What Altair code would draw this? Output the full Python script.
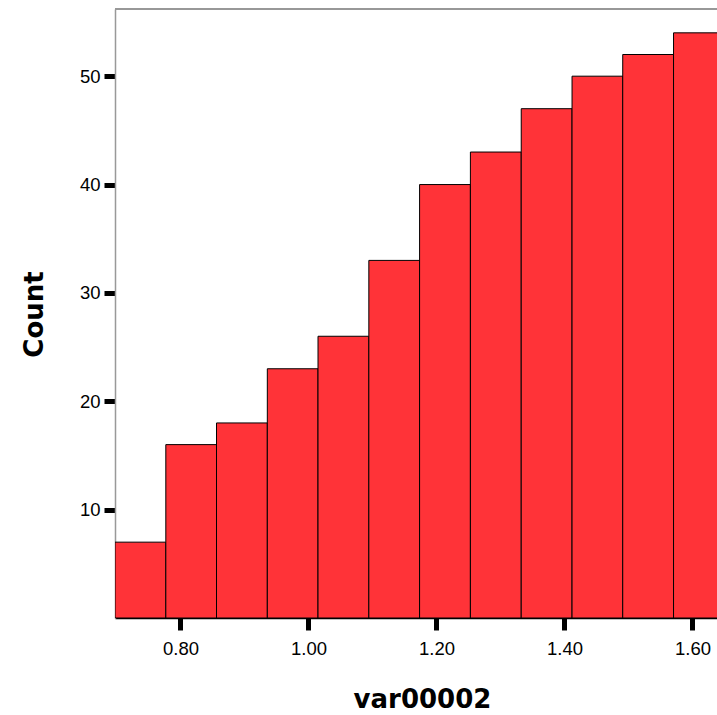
import altair as alt
import pandas as pd

bin_start = [0.6977, 0.7771, 0.8563, 0.9357, 1.0149, 1.0943, 1.1736, 1.2530, 1.3324, 1.4118, 1.4910, 1.5704]
bin_end = [0.7771, 0.8563, 0.9357, 1.0149, 1.0943, 1.1736, 1.2530, 1.3324, 1.4118, 1.4910, 1.5704, 1.6497]
counts = [7, 16, 18, 23, 26, 33, 40, 43, 47, 50, 52, 54]
x_ticks = [0.8, 1.0, 1.2, 1.4, 1.6]
y_ticks = [10, 20, 30, 40, 50]

df = pd.DataFrame({"start": bin_start, "end": bin_end, "count": counts})

W, H = 602, 609
x_dom = [0.6977, 1.6383]
y_dom = [0, 56.2]

bars = alt.Chart(df).mark_rect(
    fill="#ff3338", stroke="#000000", strokeWidth=1, clip=True
).encode(
    x=alt.X("start:Q", scale=alt.Scale(domain=x_dom, nice=False, zero=False),
            axis=alt.Axis(
                values=x_ticks, format=".2f", title="var00002",
                domainColor="#000000", domainWidth=1.5,
                tickColor="#000000", tickWidth=5, tickSize=12,
                labelFont="Liberation Sans", labelFontSize=18.5, labelColor="#000000",
                labelPadding=9, grid=False,
                titleFont="DejaVu Sans", titleFontSize=26, titleFontWeight="bold",
                titleColor="#000000", titleX=307, titleY=89,
                titleBaseline="alphabetic", titleAlign="center",
            )),
    x2="end:Q",
    y=alt.Y("count:Q", scale=alt.Scale(domain=y_dom, nice=False),
            axis=alt.Axis(
                values=y_ticks, title="Count",
                domainColor="#999999", domainWidth=1.5,
                tickColor="#000000", tickWidth=5, tickSize=11,
                labelFont="Liberation Sans", labelFontSize=18.5, labelColor="#000000",
                labelPadding=4, grid=False,
                titleFont="DejaVu Sans", titleFontSize=26, titleFontWeight="bold",
                titleColor="#000000", titleX=-73, titleY=305,
                titleBaseline="alphabetic", titleAlign="center", titleAngle=-90,
            )),
    y2=alt.datum(0),
)

top_border = alt.Chart(df).mark_rule(color="#999999", strokeWidth=1.5).encode(
    x=alt.value(0), x2=alt.value(W), y=alt.value(0)
)

chart = alt.layer(bars, top_border).properties(
    width=W, height=H,
    autosize=alt.AutoSizeParams(type="none"),
    padding={"left": 115, "top": 9, "right": 0, "bottom": 97},
).configure_view(stroke=None).configure(background="#ffffff")

chart.save("out.html", embed_options={"renderer": "svg", "actions": False})
